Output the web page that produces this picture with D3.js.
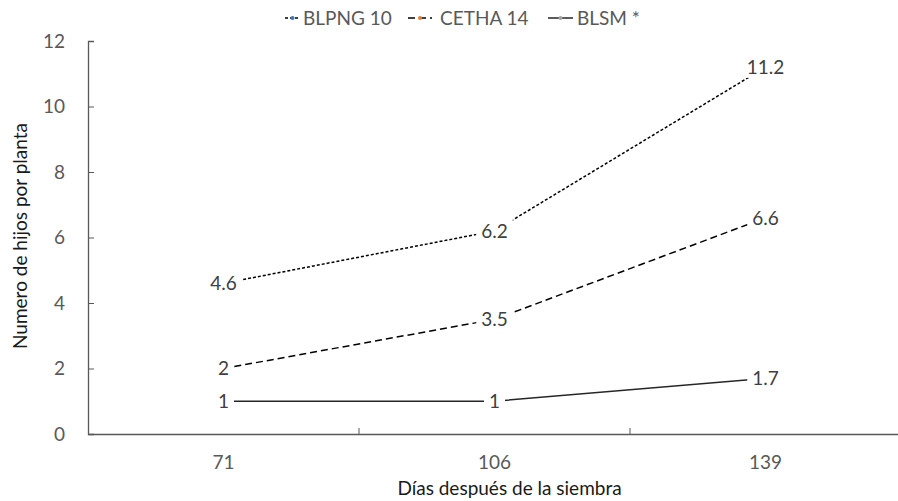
<!DOCTYPE html>
<html><head><meta charset="utf-8">
<script src="https://cdn.jsdelivr.net/npm/d3@7"></script>
<style>body{margin:0;background:#fff}svg{display:block}text{font-family:Lato,"Open Sans",sans-serif}</style>
</head><body>
<svg id="c" width="898" height="501"></svg>
<script>
const categories = ["71","106","139"];
const seriesNames = ["BLPNG 10","CETHA 14","BLSM *"];
const blpng = [4.6, 6.2, 11.2];
const cetha = [2, 3.5, 6.6];
const blsm = [1, 1, 1.7];
const yTicks = [0,2,4,6,8,10,12];

const series = [
  {name: seriesNames[0], values: blpng, dash: "3,2", color:"#000", marker:"#4472c4"},
  {name: seriesNames[1], values: cetha, dash: "7,4", color:"#000", marker:"#ed7d31"},
  {name: seriesNames[2], values: blsm, dash: null, color:"#262626", marker:"#a5a5a5"}
];

const FS = "19px";
const svg = d3.select("#c");
const L = 88, R = 901, T = 41, B = 434;
const x = d3.scaleBand().domain(categories).range([L, R]);
const y = d3.scaleLinear().domain([0,12]).range([B, T]);

// y axis
const ya = svg.append("g").attr("transform",`translate(${L},0)`)
  .call(d3.axisLeft(y).tickValues(yTicks).tickSize(-6).tickPadding(23).tickFormat(d3.format("d")));
ya.select(".domain").attr("stroke","#595959").attr("stroke-width",1.3);
ya.selectAll(".tick line").attr("stroke","#595959");
ya.selectAll(".tick text").attr("fill","#595959").style("font-size",FS);

// x axis
const xa = svg.append("g").attr("transform",`translate(0,${B})`)
  .call(d3.axisBottom(x).tickSize(0).tickPadding(22));
xa.select(".domain").attr("stroke","#595959").attr("stroke-width",1.3);
xa.selectAll(".tick text").attr("fill","#595959").style("font-size",FS);
// inner ticks at band boundaries
svg.append("g").selectAll("line").data(categories.slice(1)).join("line")
  .attr("x1",d=>x(d)).attr("x2",d=>x(d)).attr("y1",B).attr("y2",B-6)
  .attr("stroke","#595959").attr("stroke-width",1);

// lines
const line = d3.line().x((d,i)=>x(categories[i])+x.bandwidth()/2).y(d=>y(d));
series.forEach(s=>{
  svg.append("path").datum(s.values).attr("d",line)
    .attr("fill","none").attr("stroke",s.color).attr("stroke-width",1.5)
    .attr("stroke-dasharray",s.dash);
});

// data labels with white background
series.forEach(s=>{
  s.values.forEach((v,i)=>{
    const cx = x(categories[i])+x.bandwidth()/2, cy = y(v);
    const g = svg.append("g");
    const t = g.append("text").attr("x",cx).attr("y",cy).attr("dy","0.35em")
      .attr("text-anchor","middle").attr("fill","#404040").style("font-size",FS).text(String(v));
    const bb = t.node().getBBox();
    g.insert("rect","text").attr("x",bb.x-5).attr("y",bb.y).attr("width",bb.width+10).attr("height",bb.height).attr("fill","#fff");
  });
});

// axis titles
svg.append("text").attr("x",(L+R)/2+15).attr("y",495).attr("text-anchor","middle")
  .attr("fill","#1a1a1a").style("font-size",FS).text("Días después de la siembra");
svg.append("text").attr("transform",`translate(27,236) rotate(-90)`).attr("text-anchor","middle")
  .attr("fill","#1a1a1a").style("font-size",FS).text("Numero de hijos por planta");

// legend
const legendSym = [[285,300],[408,432],[548,573]];
const legendTxt = [303, 440, 577];
series.forEach((s,i)=>{
  const g = svg.append("g").attr("transform",`translate(0,18)`);
  const [a,b] = legendSym[i];
  g.append("line").attr("x1",a).attr("x2",b).attr("y1",0).attr("y2",0)
    .attr("stroke",s.color).attr("stroke-width",1.5).attr("stroke-dasharray",s.dash);
  g.append("circle").attr("cx",(a+b)/2).attr("cy",0).attr("r",2).attr("fill",s.marker);
  g.append("text").attr("x",legendTxt[i]).attr("y",0).attr("dy","0.35em").attr("fill","#595959")
    .style("font-size",FS).text(s.name);
});
</script>
</body></html>
